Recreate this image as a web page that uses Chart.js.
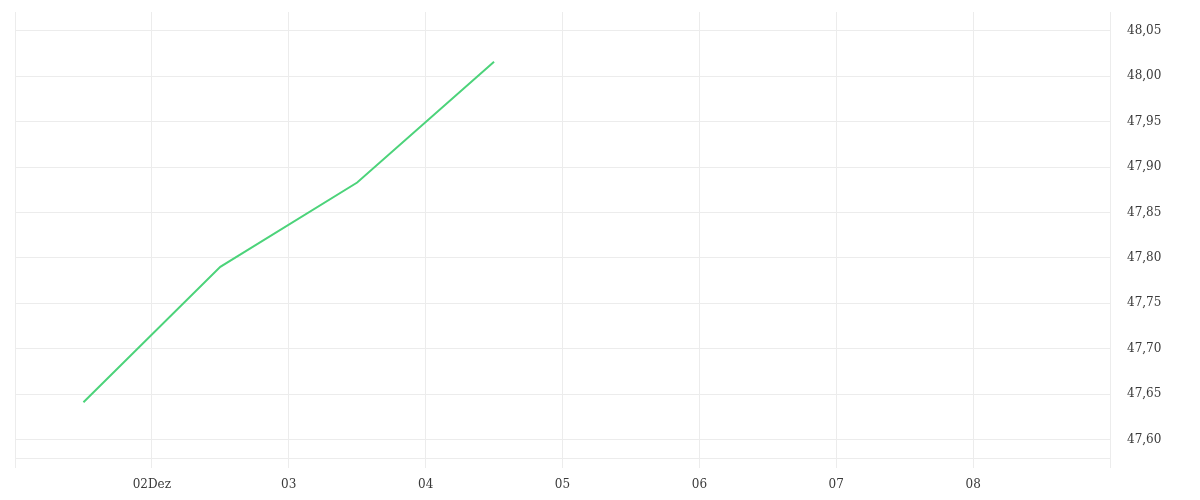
<!DOCTYPE html>
<html><head><meta charset="utf-8">
<script src="https://cdn.jsdelivr.net/npm/chart.js@4"></script>
<style>html,body{margin:0;padding:0;background:#fff}#wrap{width:1200px;height:500px}</style>
</head><body><div id="wrap"><canvas id="c" width="1200" height="500"></canvas></div>
<script>
// x values: days since 01 Dec (00:00)
const xDays = [0.5, 1.5, 2.5, 3.5];
const values = [47.641, 47.790, 47.883, 48.016];
const xTickLabels = ['', '02Dez', '03', '04', '05', '06', '07', '08', ''];
const yTicks = [47.60, 47.65, 47.70, 47.75, 47.80, 47.85, 47.90, 47.95, 48.00, 48.05];

const points = xDays.map((x, i) => ({x: x, y: values[i]}));
const font = {family: 'DejaVu Serif', size: 12};
const gridColor = '#ececec';

new Chart(document.getElementById('c'), {
  type: 'line',
  data: {datasets: [{
    data: points,
    borderColor: '#4cd37a',
    borderWidth: 2,
    pointRadius: 0,
    tension: 0,
    fill: false
  }]},
  options: {
    responsive: false,
    animation: false,
    layout: {padding: {left: 15, top: 12, right: 0, bottom: 0}},
    plugins: {legend: {display: false}, tooltip: {enabled: false}},
    scales: {
      x: {
        type: 'linear',
        min: 0, max: 8,
        grid: {color: gridColor, tickLength: 10, drawTicks: true},
        border: {color: gridColor},
        ticks: {
          stepSize: 1, autoSkip: false, maxRotation: 0, padding: 10,
          color: '#3a3a3a', font: font,
          callback: (v) => xTickLabels[Math.round(v)] ?? ''
        },
        afterFit: (s) => { s.height = 42; s.paddingLeft = 0; s.paddingRight = 0; }
      },
      y: {
        type: 'linear',
        position: 'right',
        min: 47.5795, max: 48.0708,
        grid: {color: gridColor, drawTicks: false},
        border: {color: gridColor},
        afterBuildTicks: (s) => { s.ticks = yTicks.map(v => ({value: v})); },
        ticks: {
          padding: 17, color: '#3a3a3a', font: font,
          callback: (v) => Number(v).toFixed(2).replace('.', ',')
        },
        afterFit: (s) => { s.width = 90; s.paddingTop = 0; s.paddingBottom = 0; }
      }
    }
  }
});
</script>
</body></html>
